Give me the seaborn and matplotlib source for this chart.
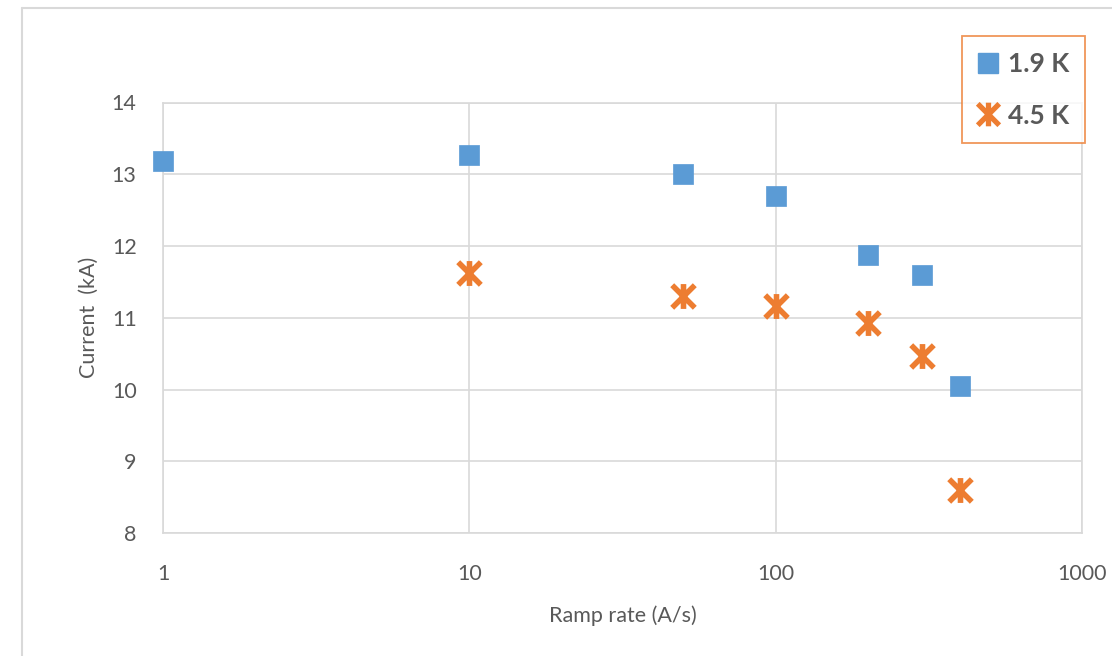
import matplotlib
matplotlib.use("Agg")
import matplotlib.pyplot as plt
import seaborn as sns
import pandas as pd
from matplotlib.path import Path
from matplotlib.lines import Line2D

# Data
ramp_19 = [1, 10, 50, 100, 200, 300, 400]
curr_19 = [13.18, 13.27, 13.00, 12.70, 11.88, 11.59, 10.05]
ramp_45 = [10, 50, 100, 200, 300, 400]
curr_45 = [11.63, 11.31, 11.17, 10.93, 10.47, 8.60]
series_labels = ["1.9 K", "4.5 K"]
x_ticks = [1, 10, 100, 1000]
x_tick_labels = ["1", "10", "100", "1000"]
y_ticks = [8, 9, 10, 11, 12, 13, 14]

sns.set_theme(style="white")
plt.rcParams['font.family'] = ['Lato', 'DejaVu Sans']

blue = "#5b9bd5"
orange = "#ed7d31"
txt = "#595959"
grid_c = "#d9d9d9"

star = Path([(-1, -1), (1, 1), (-1, 1), (1, -1), (0, -1.1), (0, 1.1)],
            [Path.MOVETO, Path.LINETO, Path.MOVETO, Path.LINETO, Path.MOVETO, Path.LINETO])

fig = plt.figure(figsize=(11.12, 6.56), dpi=100)
ax = fig.add_axes([163/1112, 1-533/656, (1082-163)/1112, (533-102.5)/656])

df19 = pd.DataFrame({"x": ramp_19, "y": curr_19})
df45 = pd.DataFrame({"x": ramp_45, "y": curr_45})
sns.scatterplot(data=df19, x="x", y="y", ax=ax, marker="s", s=190, color=blue,
                edgecolor=blue, linewidth=0.5, zorder=3, clip_on=False)
sns.scatterplot(data=df45, x="x", y="y", ax=ax, marker=star, s=320, color=orange,
                edgecolor=orange, linewidth=4.0, zorder=3, clip_on=False)

ax.set_xscale("log")
ax.set_xlim(1, 1000)
ax.set_ylim(8, 14)
ax.set_xticks(x_ticks)
ax.set_xticklabels(x_tick_labels)
ax.set_yticks(y_ticks)
ax.xaxis.set_minor_locator(matplotlib.ticker.NullLocator())
ax.grid(True, color=grid_c, linewidth=1.2)
for s in ax.spines.values():
    s.set_color(grid_c)
    s.set_linewidth(1.2)
ax.tick_params(axis='both', length=0, labelsize=15.5, colors=txt)
ax.tick_params(axis='x', pad=22)
ax.tick_params(axis='y', pad=19)
ax.set_xlabel("Ramp rate (A/s)", fontsize=15.5, color=txt, labelpad=16)
ax.set_ylabel("Current  (kA)", fontsize=15.5, color=txt, labelpad=9)

handles = [
    Line2D([], [], linestyle='none', marker='s', markersize=14, color=blue, markeredgecolor=blue),
    Line2D([], [], linestyle='none', marker=star, markersize=17, color=orange,
           markeredgecolor=orange, markeredgewidth=3.8),
]
leg = fig.legend(handles, series_labels, loc="upper left",
                 bbox_to_anchor=(962/1112, 1-36/656), frameon=True, fancybox=False,
                 prop={'weight': 'bold', 'size': 19}, labelcolor=txt,
                 handlelength=0.8, handletextpad=0.35, borderpad=0.6, labelspacing=1.05,
                 borderaxespad=0)
leg.get_frame().set_edgecolor(orange)
leg.get_frame().set_linewidth(1.3)

# outer chart border (partially cropped)
fig.add_artist(Line2D([22/1112, 22/1112], [0, 1-8/656], transform=fig.transFigure,
                      color="#d9d9d9", linewidth=1.5))
fig.add_artist(Line2D([22/1112, 1], [1-8/656, 1-8/656], transform=fig.transFigure,
                      color="#d9d9d9", linewidth=1.5))

fig.savefig("out.png", dpi=100, facecolor="white")
